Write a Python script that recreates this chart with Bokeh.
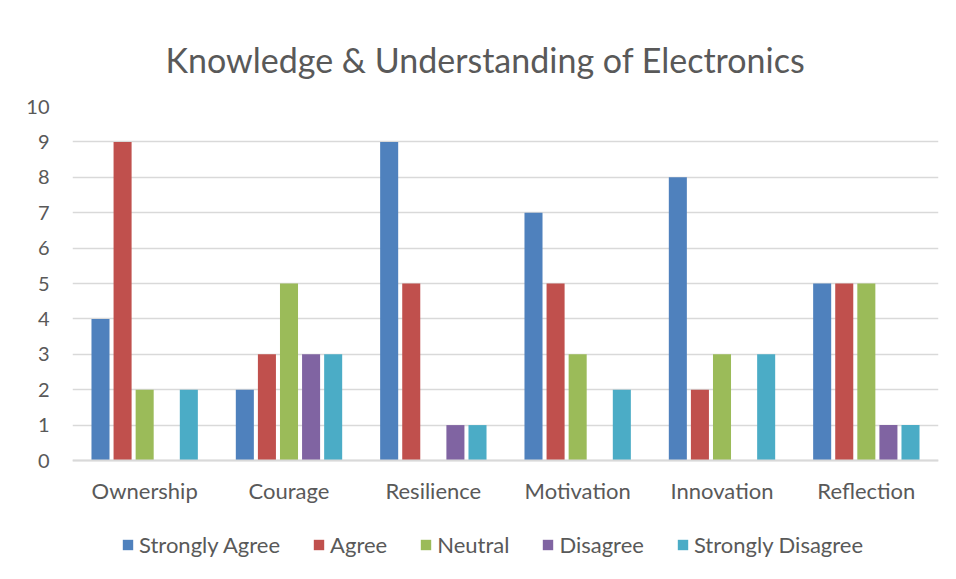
from bokeh.plotting import figure
from bokeh.models import FactorRange, Legend, LegendItem, ColumnDataSource
from bokeh.transform import dodge
from bokeh.embed import file_html
from bokeh.resources import INLINE

categories = ["Ownership", "Courage", "Resilience", "Motivation", "Innovation", "Reflection"]
series_names = ["Strongly Agree", "Agree", "Neutral", "Disagree", "Strongly Disagree"]
strongly_agree = [4, 2, 9, 7, 8, 5]
agree = [9, 3, 5, 5, 2, 5]
neutral = [2, 5, 0, 3, 3, 5]
disagree = [0, 3, 1, 0, 0, 1]
strongly_disagree = [2, 3, 1, 2, 3, 1]
y_ticks = [0, 1, 2, 3, 4, 5, 6, 7, 8, 9, 10]
colors = ["#4F81BD", "#C0504D", "#9BBB59", "#8064A2", "#4BACC6"]

FONT = "Lato"
TXT = "#595959"
GRID = "#D9D9D9"

source = ColumnDataSource(dict(cat=categories, sa=strongly_agree, a=agree, n=neutral,
                               d=disagree, sd=strongly_disagree))

# frame spans 10 units over 354 px; extra room below 0 holds labels and legend
px_per_unit = 35.4
y_bottom = -101 / px_per_unit

p = figure(width=940, height=563,
           x_range=FactorRange(*categories, range_padding=0),
           y_range=(y_bottom, 10), output_backend="svg", toolbar_location=None,
           min_border_left=64, min_border_right=10, min_border_top=98, min_border_bottom=10,
           title="Knowledge & Understanding of Electronics")
p.outline_line_color = None
p.border_fill_color = "white"
p.background_fill_color = "white"

p.title.text_font = FONT
p.title.text_font_size = "34px"
p.title.text_font_style = "normal"
p.title.text_color = TXT
p.title.align = "left"
p.title.offset = 93
p.title.standoff = 54

cols = ["sa", "a", "n", "d", "sd"]
step = 0.153
width = 0.125
items = []
for i, (c, name, col) in enumerate(zip(cols, series_names, colors)):
    r = p.vbar(x=dodge("cat", (i - 2) * step, range=p.x_range), top=c, width=width,
               source=source, fill_color=col, line_color=None)
    items.append(LegendItem(label=name, renderers=[r]))

p.yaxis.ticker = y_ticks
p.yaxis.axis_line_color = None
p.yaxis.major_tick_line_color = None
p.yaxis.minor_tick_line_color = None
p.yaxis.major_label_text_font = FONT
p.yaxis.major_label_text_font_size = "20px"
p.yaxis.major_label_text_color = TXT
p.yaxis.major_label_standoff = 17

p.xaxis.fixed_location = 0
p.xaxis.axis_line_color = GRID
p.xaxis.axis_line_width = 2
p.xaxis.major_tick_line_color = None
p.xaxis.minor_tick_line_color = None
p.xaxis.major_label_text_font = FONT
p.xaxis.major_label_text_font_size = "22px"
p.xaxis.major_label_text_color = TXT
p.xaxis.major_label_standoff = 10

p.xgrid.grid_line_color = None
p.ygrid.grid_line_color = GRID
p.ygrid.grid_line_width = 1.5

legend = Legend(items=items, orientation="horizontal", location=(49, 3),
                label_text_font=FONT, label_text_font_size="22px", label_text_color=TXT,
                glyph_width=13, glyph_height=13, label_standoff=5, spacing=32,
                border_line_color=None, margin=0, padding=4, background_fill_alpha=0)
p.add_layout(legend)

html = file_html(p, INLINE)
html = html.replace("<body>", "<body style=\"margin:8px\">")
open("out.html", "w").write(html)
